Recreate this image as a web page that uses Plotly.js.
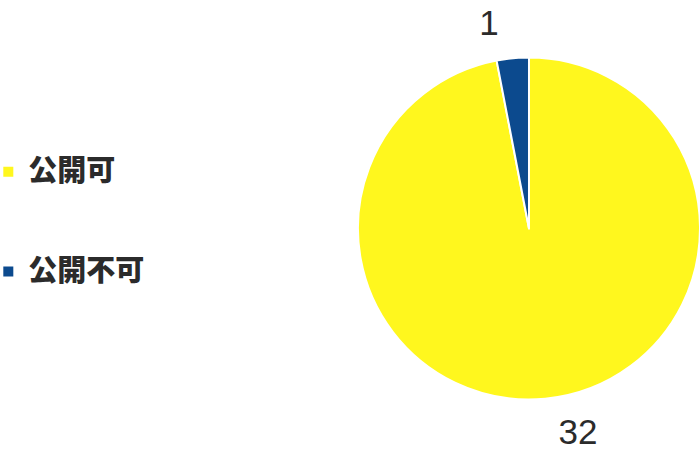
<!DOCTYPE html>
<html>
<head>
<meta charset="utf-8">
<script src="https://cdn.plot.ly/plotly-3.0.1.min.js"></script>
<style>html,body{margin:0;padding:0;background:#fff;}#chart{width:700px;height:452px;}</style>
</head>
<body>
<div id="chart"></div>
<script>
var categories = ['公開可', '公開不可'];
var counts = [32, 1];
var sliceColors = ['#FFF71E', '#0C4A8E'];

var legendLabels = categories.map(function (c) {
  return '\u00a0<br><span style="font-size:29px">' + c + '</span><br>\u00a0';
});

// value labels: padded with a blank line on the side facing the pie
var valueTemplates = [
  '\u00a0<br>\u00a0<br><span style="font-size:35px">%{value}</span>',
  '<span style="font-size:35px">%{value}</span><br>\u00a0'
];

var trace = {
  type: 'pie',
  labels: legendLabels,
  values: counts,
  sort: false,
  direction: 'clockwise',
  rotation: 0,
  marker: { colors: sliceColors, line: { color: '#ffffff', width: 2 } },
  texttemplate: valueTemplates,
  textposition: 'outside',
  textfont: { family: '"Liberation Sans", Arial, sans-serif', size: [13, 16], color: '#2b2b2b' },
  hoverinfo: 'value',
  domain: { x: [0.5114, 1], y: [0.1117, 0.8772] }
};

var layout = {
  width: 700,
  height: 452,
  margin: { l: 0, r: 0, t: 0, b: 0, autoexpand: false },
  paper_bgcolor: '#ffffff',
  showlegend: true,
  legend: {
    x: -0.0167, xanchor: 'left',
    y: 0.7415, yanchor: 'top',
    valign: 'middle',
    font: { family: '"Noto Sans CJK JP", sans-serif', size: 24.8, color: '#2b2b2b', weight: 900 },
    bgcolor: 'rgba(0,0,0,0)'
  }
};

Plotly.newPlot('chart', [trace], layout, { displayModeBar: false, staticPlot: true });
</script>
</body>
</html>
